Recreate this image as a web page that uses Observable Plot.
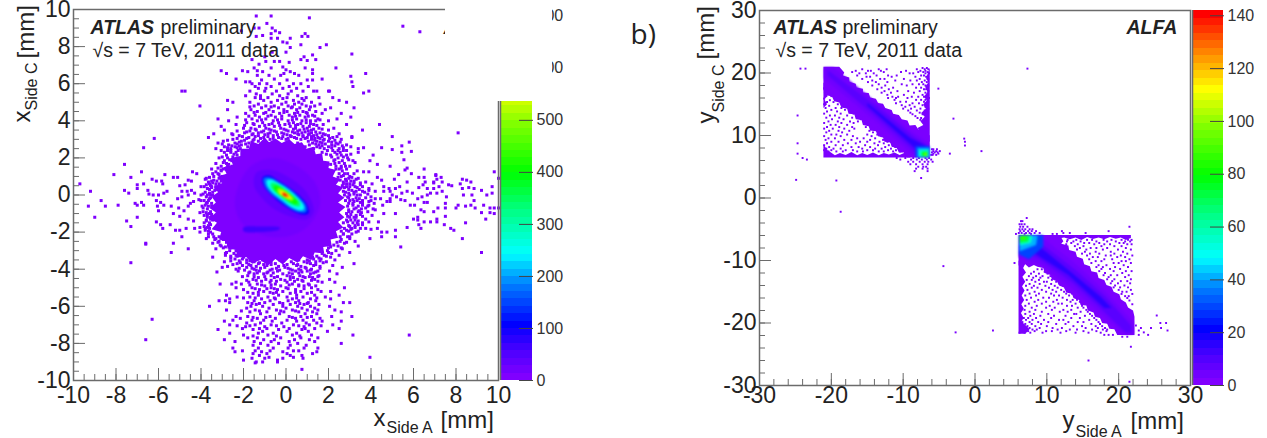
<!DOCTYPE html>
<html><head><meta charset="utf-8">
<script src="https://cdn.jsdelivr.net/npm/d3@7"></script>
<script src="https://cdn.jsdelivr.net/npm/@observablehq/plot@0.6"></script>
<style>
html,body{margin:0;padding:0;background:#fff;overflow:hidden}
#page{position:relative;width:1267px;height:438px;font-family:"Liberation Sans",Arial,sans-serif;color:#222}
#page svg{position:absolute;left:0;top:0;background:transparent}
</style></head><body><div id="page"></div>
<script>
// ---------- Colour palette (fraction of scale, colour)
const paletteStops=[0,.07,.14,.25,.33,.45,.55,.68,.78,.87,.98,1];
const paletteColors=["#8000ff","#4a00ff","#0000ff","#0080ff","#00ffff","#00ff80","#00ff00","#80ff00","#ffff00","#ff9000","#ff0000","#ff0000"];
const maxA=713, maxB=142;
// ---------- Panel a: single-count cells, rows of [y, x, x, ...] in mm
const aTop=[
[9.65,-1.4,-.7],[9.55,1.1],[9.25,-.9],[9.1,5.5],[9,-.65,-1.5,-1.27],[8.85,-.5,-2.1],[8.8,6.3],[8.75,-.3],[8.7,-.7,.9],[8.6,-1.1],[8.55,-1.4,.75,1.03],[8.45,-.4,-.7,.2],[8.25,-.15],[8.2,.05],[8.1,.7,1.9],[7.95,1.6,.2],[7.7,0,-.65],[7.6,3.1],[7.55,1.25],[7.45,.85,-1],[7.3,.7,1.4,-1.6],[7.25,1],[7.2,-.95,-.55,-.3],[7.15,.15],[7.05,-1.27],[6.9,-.15],[6.85,.9,2.35,-1.5,-.7],[6.75,1.25,0],[6.7,-3.05,-2.05,-1.35],[6.65,-1.8,-1.1,.2],[6.55,-2.8,3.75,.4,1.25,-.1],[6.45,-1.35,-.8,-.25,.6],[6.4,3.05],[6.25,-2.35,1.7,-.55],[6.2,1,1.25,.05,-1.15],[6.1,3.1,-1.9,-1.7],[6,-1.6,-1.25,-.9,-.3,.35,.7],[5.85,3.15,-1.45,-.7,.15,1.05],[5.75,-1.3,-.95,-.15,.5],[5.6,-1.7,-1,-.45,.25,.8,1.3,1.45,2,2.05],[5.6,-4.9,-4.75,3.9],[5.5,3.65],[5.45,-1.4,-.65,.1],[5.35,-1.9,-1.2,-.3,.55],[5.25,-1.45,-.85,.05,.95,2.2,1.55],[5.1,-2.75,-1.05,-.4,.35,.85,2.5],[5.0,-2.5,-1.7,-.7,0,.6,1.2,2.85],[4.9,-1.3,-.2,.4,.75,1.6],[4.8,-4.05,-1.5,-.95,-.55,.1,.95,1.35],[4.7,-1.15,-.35,.25,.65,2.1,3.2],[4.6,-2.75,-1.65,-.8,-.1,.5,1.1,1.85],[4.5,-1.35,-.6,.05,.8,1.4],[4.4,-1.9,-1.05,-.3,.4,1,1.7,2.6],[4.3,-1.45,-.7,.15,.65,1.25],[4.2,-2.3,-1.25,-.5,.3,.9,3.05],[4.1,-3.2,-1.6,-.95,-.2,.5,1.5,2.4],[4.0,-2.7,-1.35,-.6,.1,.75,1.15,2,1.4],[3.9,-1.85,-1.1,-.35,.35,.95],[3.8,-2.35,-1.5,-.8,-.05,.55,1.3,1.75,2.85,4.4],[3.7,-3.05,-1.25,-.55,.2,.8,1.1],[3.6,-2,-1.65,-.95,-.25,.45,1,1.55,2.25],[3.5,-2.9,-1.4,-.7,0,.65,1.2,2,3.6],[3.4,-1.85,-1.15,-.45,.3,.9,1.4],[3.3,-3.4,-2.55,-1.55,-.85,-.1,.55,1.1,1.75,2.5],[3.2,-2.2,-1.3,-.6,.2,.8,1.3,2],[3.1,-3.65,-1.75,-1.05,-.35,.4,1,1.5,2.2,3.1],[3,-2.5,-1.5,-.75,0,.7,1.2,1.8,2.6],[2.9,-2.95,-2.1,-1.3,1.05,1.45,2],[2.8,-3.2,-2.4,-1.75,.55,1.25,1.7,2.35],[2.7,-2.7,-2.1,1.1,1.55,2.15,2.85],[2.6,-2.9,-2.4,-1.8,.9,1.45,2,3.05],[2.5,-3.3,-2.6,-2.15,1.3,1.8,2.5,3.4]];
const aSide=[
[3.35,8.1],[3.15,5,3.1],[3.05,-6.2],[2.85,5.8],[2.65,5.45],[2.55,-6.7,3.65,4.5],[2.45,5],[2.4,-2.6,-2.25,2.2,2.7],[2.3,5.45,3.4,-2.9,-2,1.7],[2.35,5.9],[2.2,-2.45,-2.05,1.9,2.4,3.05],[2.15,4.1],[2.05,-3,-2.5,2.15,2.7],[1.9,5.55,-2.65,2.3,2.95],[1.85,3.95],[1.75,3.25,-2.95,-2.35,2.5],[1.65,-7.6,4.3,-2.7,2.1],[1.55,4.9,-2.55,2.35,2.8],[1.45,5.7,-3.2,-2.8,2.6],[1.4,6.5,2.35],[1.35,5.6,-3.05],[1.25,-6.8,-4.4,3.65,3.9,9.8,-3.3],[1.15,5.9,-4.2,-3.45,2.5,2.9,3.2],[1.1,-8.1,-5.7,5.3,-3.15,7.05],[1.05,7.05,2.7],[.95,-7.3,-5.3,-5.1,6.25,6.5,7.3,4.3,-3.6,-3.05,2.45,3.1],[.9,10],[.85,-6.3,-3.8,5.1,7.1,8.3,2.8,3.3],[.8,-4.6,4.5,8.5,-3.4,2.55],[.75,-6.1,-5.85,-4.45,-3.25,3.05],[.7,5.7,8.7,-3.65,6.55,6.95,7.35,3.75,2.7],[.65,6.95,-3.45,3.2,3.5],[.6,-9.7,-6.7,-5.8,8.2,4.05,-3.3,2.85],[.55,-7,-4.75,6.45,7.65,3.5,-3.75,3.15],[.5,-5,7.8,-3.55,2.65],[.45,-4,5.35,4.6,7.2,9.7,-3.3,3],[.4,6.25,8.6,-3.5,2.75,3.35],[.35,-7,6.65,6.95,8.3,5.15,4.85,8.85,-3.7,3.9],[.25,-6.5,-7.6,-4.45,9.2,3.9,-3.35,3.1],[.2,-9.2,-5.6,-4.9,-4.65,7.35,4.9,4.6,5.7,4.2,3.6,2.7,3.3],[.1,-7.4,-5.75,-4.3,9.7,6.8,7.1,5.95,5.45,-3.6,2.95],[.05,-6.45,-3.9,3.85,3.2],[0,-6.25,-6,-4.6,8.35,9.45,8.75,6.65,3.35,5,-3.55,2.75],[-.1,-4.9,6.4,7.55,5.2,-3.75,2.9,4],[-.2,-5.1,6.2,4.9,4.45,4.2,3.45,-3.6],[-.25,-4.1,5.4,3.15],[-.3,-8.7,-6.1,8.85,5.6,2.8,3.6,-3.85],[-.35,-4.35,4.75,4.9,3.2,3.9],[-.4,-5.9,-6.8,6.5,6.65,-3.7,3.5],[-.45,-7.1,-4.5,7.5,2.95,4.15],[-.55,-7.9,-7,-6.7,-5.75,6.05,8.1,8.7,9.3,3.9,3.6,4.55,5.85,-3.8,3.15],[-.6,-9.3,-8.5,-6.05,-5.4,-4.6,8.45,-3.65],[-.7,-5.05,8,8.9,9.6,9.8,10,7.15,7.5,3.75,3.3,-3.9],[-.8,6.35,2.95,4.2],[-.85,-6,-4.8,3.45],[-.9,6.5,6.95,3.1,3.85],[-.95,-4.05,9.2,9.6,-3.75,3.55],[-1,-5.3,9.8,4.6,5.15,2.85,-3.6],[-1.1,3.3,4.05,-3.85],[-1.15,-5,7.5,3.6,2.9],[-1.2,-9,-7,6.2,3.2,-3.7],[-1.3,-4.6,6,7.1,9.4,3.75,-3.55],[-1.35,6.2,3.05],[-1.4,-4.35,-7.5,3.4,-3.75],[-1.45,-6.1,6.5,6.8,7.1,4.35,3.9,2.9],[-1.5,8.45,3.15,-3.6],[-1.6,-5.9,-5.45,7.45,6.25,3.4,3.6,-3.55],[-1.7,-7.3,3,-3.85],[-1.75,5.7,-4.05,-3.7,3.25],[-1.8,-5.8,-4.7,-4.3,6.35,7.75,3.5,3.75,4.3,-3.6],[-1.85,4,3.05],[-1.9,-5.2,-5,7.9,5.15,-3.8,2.85],[-2,4.5,4.75,-4.05,-3.55,3.3],[-2.1,-3.65,2.7,3.1],[-2.25,-4.9,4.5,5.15,-3.4,2.9],[-2.35,-3.75,3.95,8.3,3,-3.3],[-2.5,-3.15,2.55,3.25],[-2.6,-6.6,-5.3,-3.45,2.75],[-2.75,3.4,-3.05,2.45],[-2.8,5.4,-2.85,2.1],[-2.9,-4.6,-3.3,2.65],[-3.1,-5.4,9.2,-2.8,2,3],[-3.25,-2.85,-2.35,1.8,2.5]];
const aBottom=[
[-3.35,-3.45,-2,1.25,2.1],[-3.4,-2.6,1.55],[-3.5,-1.85,-1.1,-.3,.6,1,2.3],[-3.6,-2.9,-1.5,-.7,.25,.85,1.4,1.9],[-3.7,-2.3,-1.3,-.5,.35,1.15,3.2],[-3.8,-2.05,-1.65,-.9,-.1,.5,1.3,2.2],[-3.85,-2.75,-1.4,-.35,.7,1.6],[-3.9,-3,-1.85,-1,-.05,.9,2.65],[-4,-2.35,-1.5,-.65,.2,.6,1.2],[-4.1,-2.25,-1.25,-.4,.45,1,1.5,2.05],[-4.15,-3.25,-1.7,-.85,.75,1.4],[-4.25,-1.5,-1.05,-.15,.3,1.15,2.4],[-4.35,-1.8,-.7,.05,.65,1.55],[-4.45,-1.3,-.55,.35,.9,1.25],[-4.55,-1.55,-.95,-.25,.2,.55,1.35,2.05],[-4.65,-1.15,-.45,.4,.8,1.5],[-4.7,-2.35,-1.75,-.75,.05,1.7,2.3],[-4.8,-3.1,-2.55,-2.1,-1.35,-.5,.3,1.05],[-4.9,-1,-.25,.6,.85,1.4],[-5,-2.35,-1.6,-.7,0,1.2,2.75],[-5.1,-2,-1.25,-.4,.45,1.5],[-5.2,-1.05,-.15,.7,1.65,2.1],[-5.3,-1.55,-.6,.2,1],[-5.4,-2.8,-1.3,-.35,.5,1.35,2.5],[-5.5,-2.3,-1.7,-.85,.05,.8,1.85],[-5.6,-2.65,-1.15,-.5,.3,1.15,2.1],[-5.7,-3.15,-2.85,-1.5,-.75,.1,.6,1.4],[-5.8,-2.65,-1.8,-1,-.3,.45,1.05,2.7,3],[-5.9,-1.4,-.6,.2,.85,1.55],[-6,-3.6,-1.65,-1.1,-.15,.55,1.15,2.05],[-6.1,-1.85,-.8,0,.75,1.35],[-6.2,-2.8,-1.45,-.45,.3,1,1.5,2.3],[-6.3,-1.7,-.9,-.1,.6,1.25,2.6],[-6.4,-1.2,-.3,.9,1.45],[-6.55,-2.35,-1.8,-.75,.15,.7,1.2,2.15,3.1],[-6.65,-2.15,-1.35,-.5,.45,1.6],[-6.75,-2.5,-1.6,-1.05,.05,.8,1.3],[-6.8,-2.9,-.65,.5,1.7,2.6],[-6.9,-1.85,-1.2,-.2,.95,1.45],[-7,-2.65,-1.45,-.7,.35,1.1,2.2],[-7.05,-2.3,-1.7,-.45,.6,1.65],[-7.2,-2.05,-1.25,-.9,.15,.9,1.35,2.5],[-7.25,-3.2,-1.55,-.35,.75],[-7.35,-1.1,.05,1.05,1.95],[-7.45,-2.65,-1.3,-.6,.5],[-7.55,-2,-.85,.3,1.2,3.15,5.8],[-7.7,-1.8,-1.35,-.25,.7,1.5],[-7.8,-2.9,-1.05,-.55,.4,1.1],[-7.9,-2.4,-1.5,-.7,.15,1.35],[-8,-1.2,-.35,.55,2.6],[-8.1,-1.55,-.85,.2,.95],[-8.25,-2.5,-1.3,-.6,.1,.85,1.5],[-8.4,-2.05,-1.45,-.75,.35,.6],[-8.45,-2.4,-1.15,-.15,1.45],[-8.55,-1.55,-.9,.05,1.25],[-8.65,-1.25,.2,.75],[-8.75,-.8,.35,3.95],[-8.8,-1.6,-.15,.8,-1],[-8.9,-2,-.4],[-9,-1.4,-1.1,-.4],[-9.05,-1.45],[-9.4,.75],[-7.8,-6.6],[-6.7,-6.3],[-3.65,-7.3],[-2.65,-6.6]];
// cells that crowd around the solid core of panel a
const aCrowd=[
[5.2,-1.2,-.15,.75],[4.75,-1.7,-.7,.3,1.15],[4.45,-1.5,-.95,-.1,.55,.95],[4.25,-1.75,-.85,-.2,.45,1.05,1.35],[4.05,-1.9,-1.15,-.4,.3,.95,1.6],[3.85,-1.55,-.65,.15,.7,1.15],[3.75,-1.95,-1,-.3,.45,1.45],[3.55,-1.45,-.8,-.1,.35,.85,1.3,1.7],[3.45,-2.3,-1.7,-1.05,-.55,.1,.55,1.05],[3.35,-1.95,-1.3,-.75,-.2,.4,.75,1.2,1.6],[3.25,-2.5,-1.6,-1,-.4,.05,.6,1.05,1.45,1.85],[3.15,-2.05,-1.45,-.85,-.15,.25,.8,1.2,1.7,2.4],[3.05,-2.3,-1.85,-1.2,-.6,-.2,.1,.5,.9,1.35,1.6,2.05],[2.95,-2.75,-1.95,-1.55,1.35,1.75,2.3],[2.85,-2.2,-1.6,1.6,2.15,2.55],[2.75,-3,-2.3,-1.9,1.4,1.85,2.45],[2.65,-2.55,-2.2,1.7,2.3,2.65],[2.55,-2.75,-2.3,1.6,2.15,2.7],[2.4,-3.05,-2.75,1.95,2.45,2.85],[2.3,-2.6,-2.35,2.3,2.55],[2.15,-2.8,-2.3,2.1,2.6,2.85],[2,-3.15,-2.75,2.45,2.9],[1.85,-2.9,-2.55,2.25,2.65,3.15],[1.7,-3.3,-2.8,2.3,2.75],[1.55,-3.05,-2.75,2.6,3],[1.4,-3.5,-2.95,2.5,2.85],[1.3,-3.05,2.65,3.35],[1.15,-3.2,2.75],[1,-3.4,-3,2.6,3],[.9,-3.75,-3.15,2.95,3.4],[.75,-3.5,-3.05,2.85,3.2],[.6,-3.6,-3.15,2.7,3],[.45,-3.85,-3.5,2.85,3.25,3.6],[.3,-3.6,-3.3,2.95,3.45],[.15,-3.8,-3.45,2.8,3.2,3.7],[0,-4,-3.7,-3.45,3,3.5],[-.15,-3.55,2.95,3.3,3.75],[-.3,-4,-3.65,3,3.35,4],[-.45,-3.75,-3.5,3.15,3.6],[-.6,-3.95,-3.5,2.9,3.4,3.85],[-.75,-3.7,3.2,3.55,4.1],[-.9,-3.9,-3.55,2.95,3.4],[-1.05,-3.7,-3.5,3.05,3.5],[-1.2,-3.55,3,3.3],[-1.35,-3.75,-3.45,2.85,3.25],[-1.5,-3.85,2.7,3.35,3.6],[-1.65,-3.65,2.95,3.25],[-1.8,-3.8,2.75,3.1],[-1.95,-3.65,2.6,2.95,3.4],[-2.1,-3.45,2.7],[-2.25,-3.65,-3.15,2.55,3],[-2.4,-3.35,-2.95,2.6],[-2.55,-3.2,-2.8,2.4,2.85],[-2.7,-3.1,-2.7,2.25],[-2.85,-2.95,-2.6,2,2.6],[-3,-2.65,-2.35,-2.1,1.95,2.35],[-3.15,-2.85,-2.45,-2.1,1.7,2.15],[-3.3,-2.6,-2.3,1.45,1.9],[-3.45,-2.4,-2.05,1.3,1.65],[-3.55,-2.6,-2.2,-1.7,1.1,1.6],[-3.65,-2.15,-1.85,-1.25,1,1.75],[-3.75,-2.5,-1.75,-1.05,-.7,.05,.55,1.4],[-3.95,-2.2,-1.6,-1.2,-.45,.1,.95,1.6],[-4.05,-1.95,-1.4,-.75,-.3,.3,.7,1.15],[-4.2,-1.75,-1.35,-.9,-.6,.15,.6,1.3],[-4.4,-2.05,-1.5,-1,-.4,.2,.8,1.1,1.5],[-4.6,-1.85,-1.4,-.7,-.05,.75,1.2],[-4.85,-1.7,-1.15,-.7,.15,.6,1.1],[-5.05,-1.45,-.9,-.55,.1,.85],[-5.25,-1.8,-1.3,-.75,-.45,.45,1.2],[-5.55,-2,-1.45,-.55,.5,1.45],[-5.85,-1.6,-1.25,-.15,.65,1],[-6.25,-2.1,-1.25,-.25,.45],[-6.6,-1.55,-.95,.3,1],[-7.1,-1.9,-1,-.1,.85],[-7.6,-1.55,-.45,.65]];
// ---------- Panel a: density contours (mm), nested from outside in
const aLevelValues=[1,12,30,55,100,170,240,330,400,500,570,630,700];
const aBlob=[[-1,3.1],[-.8,2.85],[-.5,3.05],[-.2,2.8],[.15,3],[.4,2.75],[.75,2.85],[.95,2.5],[1.3,2.6],[1.4,2.2],[1.7,2.25],[1.75,1.85],[2.05,1.8],[2,1.45],[2.35,1.35],[2.2,1],[2.55,.85],[2.35,.55],[2.7,.4],[2.45,.1],[2.75,-.15],[2.45,-.4],[2.8,-.65],[2.5,-.95],[2.75,-1.2],[2.45,-1.45],[2.7,-1.75],[2.35,-1.95],[2.45,-2.3],[2.1,-2.4],[2.15,-2.75],[1.75,-2.8],[1.8,-3.15],[1.35,-3.1],[1.2,-3.5],[.8,-3.3],[.55,-3.65],[.15,-3.4],[-.15,-3.75],[-.5,-3.45],[-.85,-3.8],[-1.2,-3.5],[-1.6,-3.7],[-1.85,-3.35],[-2.3,-3.35],[-2.35,-2.95],[-2.75,-2.9],[-2.8,-2.5],[-3.15,-2.4],[-3.05,-2],[-3.5,-1.85],[-3.25,-1.5],[-3.6,-1.25],[-3.3,-.95],[-3.6,-.7],[-3.3,-.4],[-3.5,-.1],[-3.2,.15],[-3.4,.45],[-3,.65],[-3.2,1],[-2.8,1.15],[-2.95,1.5],[-2.5,1.6],[-2.6,2],[-2.15,2.1],[-2.15,2.5],[-1.75,2.5],[-1.65,2.9],[-1.3,2.75]];
const aHalo=[[-1.6,1.6],[-.6,2],[.6,1.5],[1.4,.6],[1.6,-.5],[1.1,-1.6],[.2,-2.2],[-1,-2.2],[-2,-1.6],[-2.4,-.6],[-2.2,.6]];
const aCore=[[-1.4,1.2],[-.7,1.35],[.2,.9],[1,.1],[1.3,-.9],[1,-1.3],[.3,-1.2],[-.5,-.8],[-1.1,-.2],[-1.5,.5]];
const aStreak=[[-2,-1.75],[-1.2,-1.7],[-.3,-1.75],[-.3,-1.85],[-1.2,-2],[-2,-1.95]];
const aEll100=[[-1.1,.95],[-.8,1.05],[-.4,.8],[.1,.45],[.6,0],[1,-.55],[1.05,-1],[.75,-1.05],[.3,-.85],[-.25,-.45],[-.7,0],[-1.05,.5]];
const aEll160=[[-1.05,.9],[-.75,.95],[-.35,.7],[.15,.35],[.6,-.1],[.95,-.6],[.95,-.9],[.7,-.95],[.25,-.75],[-.25,-.35],[-.7,.05],[-1,.5]];
const aEll230=[[-.9,.8],[-.65,.82],[-.3,.6],[.15,.25],[.55,-.15],[.85,-.6],[.82,-.8],[.6,-.82],[.2,-.62],[-.2,-.25],[-.6,.1],[-.88,.5]];
const aEll300=[[-.7,.65],[-.45,.62],[-.1,.35],[.3,0],[.65,-.4],[.65,-.6],[.45,-.6],[.1,-.4],[-.25,-.1],[-.55,.2],[-.72,.45]];
const aEll380=[[-.55,.5],[-.3,.45],[.05,.2],[.35,-.1],[.55,-.4],[.45,-.5],[.2,-.38],[-.1,-.15],[-.4,.1],[-.58,.35]];
const aEll470=[[-.38,.35],[-.15,.3],[.15,.05],[.35,-.2],[.3,-.3],[.1,-.25],[-.15,-.08],[-.38,.12]];
const aEll560=[[-.25,.22],[-.05,.15],[.18,-.05],[.22,-.18],[.05,-.16],[-.15,-.05],[-.28,.08]];
const aEll640=[[-.17,.14],[-.02,.08],[.12,-.06],[.12,-.12],[-.02,-.08],[-.17,.02]];
const aEll700=[[-.13,.1],[0,.04],[.07,-.05],[0,-.07],[-.13,0]];
const aContours=[aBlob,aHalo,aCore,aStreak,aEll100,aEll160,aEll230,aEll300,aEll380,aEll470,aEll560,aEll640,aEll700];
// ---------- Panel b: single-count cells, rows of [y, x, x, ...] in mm
const bUpperRight=[
[20.8,-7.3,-6.7],[20.6,-15.7,-13.4,-12.3,-8.1,-7,-6.5],[20.35,-16.6,-14.9,-14.5,-13.1,-9.6,-7.6,-6.9],[20.15,-17.1,-12.7,-10.3,-7.9,-7.2,-6.6],[19.95,-16.1,-15.2,-14.1,-9.1,-8.6,-6.9,-6.4],[19.6,-16.4,-13.7,-12.1,-10.9,-7.5,-7.1],[19.4,-15.1,-14.6,-11.6,-8.3,-6.8],[19.05,-15.7,-13.2,-12.6,-9.9,-7.7,-6.6,-6.5],[18.8,-14.3,-11.1,-9,-8.1,-7],[18.55,-14.9,-13.8,-12.2,-7.4,-6.7],[18.2,-13.4,-10.2,-8.7,-7.8,-7.2],[18,-14.3,-12.5,-9.5,-6.9,-6.5],[17.65,-13,-11.4,-8.2,-7.5,-6.6],[17.4,-13.6,-12,-7.1,-6.8],[17.1,-12.6,-10.8,-9.3,-7.7,-6.5],[16.85,-13,-11.7,-8.5,-6.9],[16.5,-12.2,-9.9,-7.3,-6.6],[16.2,-11.5,-10.7,-8.8,-7.9,-7.1],[16,-12.1,-11,-9.4,-6.7,-6.4],[15.7,-11.2,-8.2,-7.5,-6.9],[15.4,-10.4,-9.6,-7.1,-6.5],[15.15,-11,-8.7,-7.8,-6.8],[14.85,-10.2,-9.1,-7.3,-6.6],[14.6,-9.7,-8.4,-6.9],[14.3,-10,-8.9,-7.6,-6.5],[14,-9.3,-8.1,-7],[13.65,-9,-7.7,-6.7],[13.4,-8.7,-7.3],[13.1,-8.3,-6.8],[12.8,-8,-7.5],[12.5,-7.6,-7]];
const bUpperLeft=[
[18.2,-20.4,-19.9],[17.85,-20.8,-19.3],[17.55,-21,-20.1,-18.9],[17.2,-20.5,-19,-18.4],[16.9,-20.9,-19.7,-18.2],[16.55,-20.3,-19.2,-17.7],[16.3,-20.7,-20,-18.3,-17.4],[15.9,-21,-19.4,-18.8,-17],[15.65,-20.2,-18,-16.9],[15.35,-20.6,-19.7,-17.6,-16.6],[15,-21,-19.1,-18.4,-16.3],[14.75,-20.3,-17.7,-16.9,-16],[14.4,-20.8,-19.4,-18.6,-15.8],[14.1,-20,-18.1,-16.5,-15.5],[13.85,-20.6,-19.2,-17.2,-15.9,-15.2],[13.5,-21,-18.7,-16.9,-15.1],[13.2,-24.7,-20.2,-19.5,-17.8,-16.1,-14.9],[12.85,-20.7,-18.9,-17.1,-15.5,-14.6],[12.6,-19.9,-18.3,-15.9,-14.4],[12.25,-20.4,-19.1,-17.4,-16.3,-14.9,-14.1],[12,-21,-18.6,-16.9,-15.3,-13.9],[11.7,-20.1,-19.4,-17.8,-14.5,-13.7],[11.35,-20.6,-18.9,-17.1,-15.2,-13.5],[11.1,-21,-19.8,-18.2,-16.8,-14.1,-13.2],[10.75,-20.3,-19,-17.5,-14.7,-13.4],[10.5,-20.7,-18.5,-14.2,-13,-12.8],[10.15,-20,-19.3,-17.8,-15,-13.6,-12.6],[9.9,-21,-18.7,-17,-14.4,-13,-12.4],[9.55,-20.4,-19.5,-16.4,-15.5,-13.9,-12.1],[9.3,-20.8,-18.2,-17.2,-14.6,-12.8,-11.9],[9,-20,-19,-16,-15,-13.3,-12.2,-11.7],[8.75,-20.6,-17.7,-16.6,-14,-12.7,-11.5,-24.7],[8.45,-21,-19.4,-18.4,-15.3,-13.5,-12,-11.2],[8.15,-20.3,-17.2,-16.2,-14.6,-12.5,-11.1,-10.8],[7.9,-20.7,-19.7,-18.7,-15.7,-13.9,-13,-11.7,-10.5],[7.65,-21,-20,-18,-17,-15,-14.2,-12.1,-11,-10.2,-9.9],[7.45,-20.4,-19.3,-18.4,-16.4,-15.6,-13.4,-12.7,-11.4,-10.4,-9.6]];
const bUpperEdge=[
[6.4,-24,-9.7,-8.6,-7.8,-6.9,-6.4,-10.9],[6.15,-23.4,-10.4,-8.9,-8.1,-7.4,-6.7,-6.1],[5.8,-9.3,-8.6,-7.7,-7,-6.5,-5.9],[5.4,-9,-8.2,-7.3,-6.6],[5,-7.9,-7.2,-6.8],[4.7,-8.2,-7.3,-6.6],[4.3,-8.4,-6.6],[3.2,-7.5],[2.9,-24.9],[2.8,-19.3],[20.7,7.3,-24.3,-23.6],[12.7,-3],[9.5,-1.5],[9,-1.4],[8.4,-1.4],[17.5,-5.1],[-2.2,-18.7],[7.8,-5.8,-5.3,-6],[7.5,-5.4,-4.9,.9,-5.8],[7.3,-6,-5.6,-5.2],[7.1,-5.8,-5.1,-3.5,-24.7],[6.9,-5.9,-5.4,-6.1]];
const bLowerRight=[
[-6.7,12.9,14.1,15.6,16.3,17.9,19,20.4,21.3,21.8],[-6.95,12.8,13.7,14.7,16.9,18.4,19.6,20.9,21.6],[-7.2,13.4,15.2,15.9,17.3,20.1,20.7],[-7.4,12.7,14.3,16.6,18,18.8,21.2,21.8],[-7.7,13.9,15.1,17.6,19.4,20.4],[-8,14.6,16.1,16.9,18.4,21],[-8.25,14.2,15.5,17.8,19.9,21.7],[-8.6,15.3,16.8,18.9,20.6],[-8.9,14.9,16,17.3,19.4,21.2],[-9.2,15.6,18.2,18.9,20.3,21.9],[-9.45,16.4,17.1,19.8,20.9],[-9.8,15.9,18,19.1,21.5],[-10.1,16.8,17.6,20.4,21],[-10.4,16.2,19.3,20,21.7],[-10.75,17.2,18.3,20.7],[-11.05,16.9,17.8,19.5,21.3],[-11.35,17.6,18.8,20.2],[-11.7,17.3,19.3,21,21.8],[-12,18.1,20.5],[-12.35,17.9,18.9,19.8,21.4],[-12.65,18.6,20.9],[-13,18.4,19.4,21.7],[-13.3,19.1,20.3,21.2],[-13.65,18.9,19.9,21.6],[-14,19.5,20.8],[-14.3,19.3,20.2,21.3],[-14.7,20,21.7],[-15,20.5,21.1],[-15.35,20.4,21.9],[-15.7,20.9,21.4],[-16,21.2],[-16.4,21.5],[-17,21.9]];
const bLowerLeft=[
[-11.4,8.7,9.3],[-11.8,8.2,9.7,10.4],[-12.1,7.8,8.9,10.1,10.8],[-12.5,7.5,8.5,9.4,10.5,11],[-12.75,8.1,9.1,10.2,11.2],[-13.1,7.2,7.9,8.9,10.7,11.6],[-13.4,8.4,9.6,10,11.3],[-13.75,7.6,9,10.6,11.8,12],[-14.05,7.1,8.2,9.8,11.1,12.3],[-14.35,7.9,8.7,10.3,11.5,12.6],[-14.7,7.3,9.3,10.8,12,12.9],[-15,8.3,9.9,11.3,12.4,13.2],[-15.3,7.6,8.9,10.6,12.7,13.5],[-15.6,7,8.5,11,11.7,13.1,13.9],[-15.95,7.8,9.5,10.3,12.2,14],[-16.3,7.2,8.8,11.4,12.8,13.6,14.2],[-16.6,8.3,9.9,10.9,13.3,14.6],[-16.9,7.5,9.3,11.6,12.1,14],[-17.25,7,8.6,10.4,12.8,13.5,14.9],[-17.55,7.9,9.9,11.1,14.3,15.1],[-17.9,6.9,8.4,10.7,12.3,13.4,15.5],[-18.2,7.6,9.3,11.8,12.9,14.7,15.7],[-18.55,7,8.2,10.2,13.8,14.1,16],[-18.85,7.7,9.1,11,12.6,15.3,16.3],[-19.2,6.8,7.4,8.5,10.6,13.4,14.6,16.6],[-19.5,7.1,8,9.6,11.7,12.3,15.9,16.9],[-19.85,6.6,7.6,8.8,10.2,13,14.3,15.1,17.2],[-20.15,7,7.9,9.2,11.3,12.6,16.2,17.4],[-20.5,6.5,7.3,8.4,10,13.7,14.9,16.8,17.7],[-20.8,6.8,7.6,9,10.8,12.1,15.4,17.1,18.1],[-21.05,6.4,7.1,8,8.6,11.5,13.2,14.2,16.3,17.8,18.4],[-21.3,6.7,7.4,8.3,9.9,10.7,12.7,15.1,16.9,18.3],[-21.55,6.2,6.9,7.7,9.4,11.9,14,15.8,17.5]];
const bLowerEdge=[
[-3.2,7.2],[-3.7,6.4,6.6],[-4.2,6.2,6.5,6.9],[-4.6,6.3,6.7,7.3,21.5],[-5,6.2,6.6,7,7.6,8],[-5.3,6.3,6.8,7.4,7.9,8.5,12.1,18.6],[-5.6,6.1,6.5,7.1,7.6,8.3,9,13.2,12.3,15.4],[-5.75,5.7,6.9,7.8,10.8,11.4],[-10.4,5.5],[-10.9,-4.4],
[-18.8,25.3],[-20,26.6,25.8],[-20.4,22.4],[-20.8,23.1,24.5,25.9],[-21.2,2.5,26.8,22.8],[-21.5,-2.7,23.5],[-21.9,18,18.6,19.2,22.8,24.1],[-22.2,20.5,21.2],[-23.8,21.7],[-26,15.8],[-29.4,21.5]];
// ---------- Panel b: density contours (mm), hand-traced ragged outlines first
const bUp0=[[-21.1,21],[-18.9,21],[-18.2,20.1],[-18.4,19.6],[-17.5,19.3],[-17.5,18.6],[-16.6,18.3],[-16.5,17.7],[-15.6,17.5],[-15.6,16.9],[-14.8,16.8],[-14.6,16.1],[-13.8,15.9],[-13.5,15.2],[-12.8,15.1],[-12.5,14.4],[-11.6,14.1],[-11.4,13.5],[-10.6,13.3],[-10.2,12.6],[-9.4,12.4],[-9.1,11.6],[-8.3,11.7],[-7.9,11],[-7.2,10.8],[-6.3,10],[-6.3,6.5],[-9.5,6.5],[-9.9,7.3],[-10.6,7.3],[-10.9,8],[-11.6,8.2],[-11.8,8.9],[-12.6,9],[-12.8,9.7],[-13.5,9.9],[-13.8,10.7],[-14.6,10.8],[-14.8,11.5],[-15.6,11.7],[-15.8,12.5],[-16.6,12.6],[-16.8,13.4],[-17.6,13.5],[-17.8,14.3],[-18.6,14.5],[-18.9,15.3],[-19.6,15.5],[-19.9,16.2],[-20.6,16.5],[-21.1,17.3]];
const bUp1=[[-21,20.9],[-19.7,20.9],[-13.6,15.2],[-9,10.8],[-6.5,8.8],[-6.5,6.6],[-8.4,6.6],[-13.6,12.1],[-21,19.1]];
const bUp2=[[-20.5,20.5],[-13.6,14.6],[-8.5,9.8],[-6.6,8.4],[-6.6,7],[-8,7],[-13.6,12.8],[-20.5,19.6]];
const bUp3=[[-15,15.2],[-9,9.6],[-6.6,8.2],[-6.6,7.4],[-7.8,7.4],[-15,14.8]];
const bUpSpot1=[[-8.3,8.3],[-6.3,8.3],[-6.3,6.5],[-8.3,6.5]];
const bUpSpot2=[[-8,8],[-6.3,8],[-6.3,6.5],[-8,6.5]];
const bUpSpot3=[[-7.8,7.7],[-6.5,7.7],[-6.5,6.6],[-7.8,6.6]];
const bUpSpot4=[[-7.4,7.4],[-6.6,7.4],[-6.6,6.7],[-7.4,6.7]];
const bUpSpot5=[[-7.1,7.2],[-6.7,7.2],[-6.7,6.8],[-7.1,6.8]];
const bUpStripBottom=[[-21.1,6.5],[-9,6.5],[-9,6.9],[-9.8,7.25],[-10.5,6.9],[-11.2,7.3],[-12,6.95],[-12.7,7.2],[-13.4,6.85],[-14.2,7.3],[-15,6.9],[-15.7,7.2],[-16.4,6.85],[-17.2,7.35],[-18,6.9],[-18.8,7.2],[-19.5,6.85],[-20.2,7.4],[-20.5,7.6],[-20.8,8.1],[-21.1,8.6]];
const bUpStripRight=[[-6.3,9],[-6.3,20.8],[-6.5,20.2],[-6.8,19.2],[-6.5,18.5],[-6.95,17.8],[-6.6,17],[-7.1,16.2],[-6.7,15.6],[-7.2,15],[-6.85,14.3],[-7.5,13.6],[-7,13],[-7.6,12.3],[-7.2,11.7],[-8,11.2],[-7.6,10.6],[-8.4,10.3],[-7.8,9.6]];
const bUpStripLeft=[[-21.1,18.5],[-20.6,17.9],[-20.9,17.2],[-20.5,16.4],[-20.95,15.8],[-20.6,15],[-21.1,14.4]];
const bLoStripTop=[[11,-5.9],[21.7,-5.9],[21.7,-6.4],[21,-6.7],[20.3,-6.3],[19.6,-6.5],[18.8,-6.25],[18,-6.6],[17.2,-6.3],[16.4,-6.55],[15.6,-6.25],[14.8,-6.7],[14,-6.3],[13.2,-6.6],[12.4,-6.3],[11,-6.6]];
const bLoStripLeft=[[6.06,-10],[7,-10.5],[6.7,-11.2],[7.1,-11.9],[6.6,-12.6],[7,-13.4],[6.55,-14.1],[6.9,-14.8],[6.5,-15.6],[6.85,-16.3],[6.45,-17],[6.8,-17.7],[6.4,-18.4],[6.75,-19.1],[6.5,-19.8],[7.2,-20.5],[7.6,-21],[7,-21.7],[6.06,-21.7]];
const bLo0=[[6.06,-5.9],[11.8,-5.9],[12.3,-6.9],[12,-7.3],[13,-7.6],[13.1,-8.3],[14,-8.6],[14.2,-9.4],[15,-9.7],[15.2,-10.6],[16,-10.9],[16.2,-11.7],[17,-11.9],[17.2,-12.8],[18,-13.1],[18.3,-13.9],[19,-14.2],[19.3,-15],[20.1,-15.4],[20.3,-16.2],[21,-16.7],[21.3,-17.5],[22,-18],[22.2,-19],[22.2,-21.9],[19.8,-21.9],[19.4,-21],[18.7,-20.9],[18.4,-20.1],[17.7,-20],[17.4,-19.2],[16.7,-19],[16.5,-18.3],[15.7,-18],[15.5,-17.2],[14.7,-17.1],[14.5,-16.3],[13.7,-16],[13.5,-15.3],[12.7,-15.1],[12.4,-14.3],[11.7,-14],[11.4,-13.3],[10.7,-13],[10.5,-12.3],[9.7,-12],[9.5,-11.2],[8.7,-11],[8.2,-10.7],[7.5,-11.1],[7,-10.6],[6.06,-10.8]];
const bLo1=[[6.1,-6],[9,-6],[14,-10.5],[18.2,-15],[22,-19.8],[22.1,-21.8],[20.8,-21.8],[17.8,-18.8],[13.6,-14.5],[9,-10.5],[6.1,-9.5]];
const bLo2=[[7,-6.5],[9.5,-7.5],[14,-11.5],[18.2,-15.8],[21.8,-20.5],[21.8,-21.5],[21,-21.5],[17.8,-18],[13.6,-13.6],[9,-9.8],[6.5,-8.5]];
const bLo3=[[7,-6.5],[9,-7.8],[13,-11.5],[17.5,-15.8],[19,-17.6],[18,-17.6],[13,-12.3],[8.5,-9],[6.5,-8]];
const bLoSpot1=[[6.1,-5.9],[9.5,-5.9],[9.5,-7.8],[7.5,-9.8],[6.1,-9]];
const bLoSpot2=[[6.2,-6],[8.7,-6],[8.5,-7.5],[6.2,-8.5]];
const bLoSpot3=[[6.2,-6],[8,-6],[7.8,-7.2],[6.2,-7.6]];
const bLoSpot4=[[6.2,-6],[7.6,-6],[7.4,-7],[6.2,-7.2]];
const bLoSpot5=[[6.3,-6.1],[7.2,-6.1],[7,-6.7],[6.3,-6.7]];
const bContours=[bUpStripBottom,bUpStripRight,bUpStripLeft,bLoStripTop,bLoStripLeft,bUp0,bLo0,bUp1,bUp2,bUp3,bUpSpot1,bUpSpot2,bUpSpot3,bUpSpot4,bUpSpot5,bLo1,bLo2,bLo3,bLoSpot1,bLoSpot2,bLoSpot3,bLoSpot4,bLoSpot5];
const bContourLevels=[1,1,1,1,1,1,1,3,7,14,28,40,54,75,95,3,7,14,28,40,54,70,85];
// ---------- Axes
const aMajor=[-10,-8,-6,-4,-2,0,2,4,6,8,10];
const bMajor=[-30,-20,-10,0,10,20,30];
const aBarTicks=[0,100,200,300,400,500,600,700];
const bBarTicks=[0,20,40,60,80,100,120,140];
const FONT='"Liberation Sans",Arial,sans-serif', INK="#222", FRAME="#6b6b6b";
const color=max=>({type:"linear",domain:paletteStops.map(f=>f*max),range:paletteColors,clamp:true});
const cells=rows=>rows.flatMap(([y,...xs])=>xs.map(x=>({x,y,n:1})));
const contour=(polys,levels)=>polys.flatMap((p,i)=>p.map(([x,y])=>({x,y,i,lvl:levels[i]})));
const minors=(lo,hi,step)=>d3.range(lo,hi+step/2,step);

function panel({el,left,right,top,bottom,dom,major,minorStep,max,dots,polys,levels,sharp,dotR,curve,blur,labelDy}){
  const W=1267,H=438;
  el.appendChild(Plot.plot({
    width:W,height:H,marginLeft:left,marginRight:W-right,marginTop:top,marginBottom:H-bottom,
    style:{fontFamily:FONT,background:"transparent",color:INK,overflow:"visible"},
    x:{domain:dom,label:null},y:{domain:dom,label:null},
    color:color(max),
    marks:[
      Plot.line(contour(polys.slice(0,sharp),levels.slice(0,sharp)),{x:"x",y:"y",z:"i",fill:"lvl",stroke:"none",curve:"linear-closed"}),
      Plot.dot(cells(dots),{x:"x",y:"y",fill:"n",symbol:"square",r:dotR,stroke:"none"}),
      Plot.line(contour(polys.slice(sharp),levels.slice(sharp)),{x:"x",y:"y",z:"i",fill:"lvl",stroke:"none",curve,imageFilter:`blur(${blur}px)`}),
      Plot.frame({stroke:FRAME,strokeWidth:1.5}),
      Plot.axisX(minors(dom[0],dom[1],minorStep),{anchor:"bottom",tickSize:-6,tickFormat:()=>"",stroke:FRAME}),
      Plot.axisX(major,{anchor:"bottom",tickSize:-12,tickFormat:()=>"",stroke:FRAME}),
      Plot.axisY(minors(dom[0],dom[1],minorStep),{anchor:"left",tickSize:-6,tickFormat:()=>"",stroke:FRAME}),
      Plot.axisY(major,{anchor:"left",tickSize:-12,tickFormat:()=>"",stroke:FRAME}),
      Plot.axisX(major,{anchor:"bottom",tickSize:0,tickPadding:labelDy,fontSize:23,tickFormat:d=>String(d),fill:INK}),
      Plot.axisY(major,{anchor:"left",tickSize:0,tickPadding:3,fontSize:23,tickFormat:d=>String(d),fill:INK})
    ]}));
}
function colorbar({el,left,right,top,bottom,max,ticks}){
  const W=1267,H=438;
  const step=max/50;
  const bands=d3.range(0,max-1e-9,step).map(v=>({lo:v,hi:v+step}));
  el.appendChild(Plot.plot({
    width:W,height:H,marginLeft:left,marginRight:W-right,marginTop:top,marginBottom:H-bottom,
    style:{fontFamily:FONT,background:"transparent",color:INK},
    x:{domain:[0,1],axis:null},y:{domain:[0,max],label:null},color:color(max),
    marks:[
      Plot.rect(bands,{x1:()=>0,x2:()=>1,y1:"lo",y2:"hi",fill:"lo",shapeRendering:"crispEdges"}),
      Plot.axisY(ticks,{anchor:"right",tickSize:-14,tickFormat:()=>"",stroke:"#444"}),
      Plot.axisY(ticks,{anchor:"right",tickSize:0,tickPadding:4,fontSize:16,tickFormat:d=>String(d),fill:"#333"}),
      Plot.ruleX([0],{stroke:FRAME,strokeWidth:1.5,dx:-1})
    ]}));
}
const page=document.getElementById("page");
panel({el:page,left:73,right:498,top:9,bottom:380,dom:[-10,10],major:aMajor,minorStep:.5,max:maxA,dots:[...aTop,...aSide,...aBottom,...aCrowd],polys:aContours,levels:aLevelValues,sharp:1,dotR:1.7,curve:"catmull-rom-closed",blur:.9,labelDy:6});
panel({el:page,left:759,right:1190,top:10,bottom:385,dom:[-30,30],major:bMajor,minorStep:2,max:maxB,dots:[...bUpperRight,...bUpperLeft,...bUpperEdge,...bLowerRight,...bLowerLeft,...bLowerEdge],polys:bContours,levels:bContourLevels,sharp:7,dotR:1.1,curve:"linear-closed",blur:.8,labelDy:1});
colorbar({el:page,left:501,right:532,top:9,bottom:380,max:maxA,ticks:aBarTicks});
colorbar({el:page,left:1193,right:1223,top:10,bottom:385,max:maxB,ticks:bBarTicks});
// ---------- Annotation layer in page pixels
const T=(text,x,y,o={})=>Plot.text([text],{text:d=>d,x:()=>x,y:()=>y,textAnchor:"start",lineAnchor:"bottom",fill:INK,fontSize:19.5,...o});
const R=(text,x,y,o={})=>T(text,x,y,{rotate:-90,...o});
page.appendChild(Plot.plot({
  width:1267,height:438,margin:0,x:{domain:[0,1267],axis:null},y:{domain:[0,438],reverse:true,axis:null},
  style:{fontFamily:FONT,background:"transparent"},
  marks:[
    T("ALFA",443,33,{fontWeight:"bold",fontStyle:"italic"}),
    Plot.rect([0],{x1:()=>445,x2:()=>552,y1:()=>0,y2:()=>101,fill:"#fff"}),
    T("ATLAS",90,33,{fontWeight:"bold",fontStyle:"italic"}),
    T("preliminary",160,33),
    T("√s = 7 TeV, 2011 data",92,56),
    T("ATLAS",773,33,{fontWeight:"bold",fontStyle:"italic"}),
    T("preliminary",842,33),
    T("√s = 7 TeV, 2011 data",775,56),
    T("ALFA",1126,33,{fontWeight:"bold",fontStyle:"italic"}),
    T("x",373,425,{fontSize:24}),T("Side A",386,432,{fontSize:16}),T("[mm]",440,427,{fontSize:24}),
    R("x",29,122,{fontSize:24}),R("Side C",36,110,{fontSize:16}),R("[mm]",33,58,{fontSize:24}),
    T("y",1062,427,{fontSize:24}),T("Side A",1075,436,{fontSize:16}),T("[mm]",1130,428,{fontSize:24}),
    R("y",713,123,{fontSize:24}),R("Side C",723,112,{fontSize:16}),R("[mm]",713,59,{fontSize:24}),
    T("b)",630,43,{fontSize:28,fontFamily:"Open Sans"})
  ]}));
</script></body></html>
